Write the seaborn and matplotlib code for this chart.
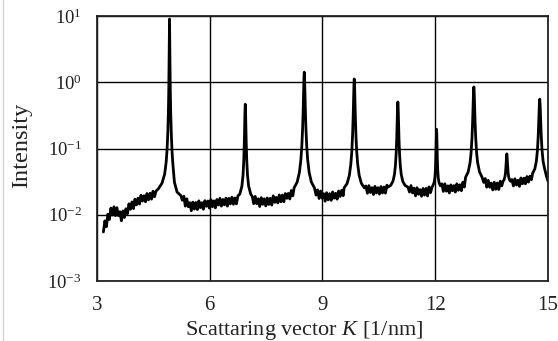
import matplotlib
matplotlib.use("Agg")
import matplotlib.pyplot as plt
import matplotlib.lines as mlines
import seaborn as sns
import pandas as pd

# ---------------- data ----------------
k_a = [3.17, 3.21, 3.25, 3.29, 3.33, 3.37, 3.41, 3.45, 3.49, 3.53, 3.57, 3.61,
       3.65, 3.69, 3.73, 3.77, 3.81, 3.85, 3.89, 3.93, 3.97, 4.01, 4.05, 4.09,
       4.13, 4.17, 4.21, 4.25, 4.29, 4.33, 4.37, 4.41, 4.45, 4.49, 4.53, 4.57]
i_a = [0.0055, 0.0081, 0.0066, 0.0102, 0.0085, 0.0126, 0.0099, 0.0132, 0.0097,
       0.0128, 0.0097, 0.0111, 0.0081, 0.0114, 0.0091, 0.0123, 0.0104, 0.0146,
       0.0121, 0.0156, 0.0124, 0.0172, 0.0141, 0.0178, 0.0145, 0.0197, 0.0161,
       0.0193, 0.0157, 0.0209, 0.0168, 0.0211, 0.0172, 0.0226, 0.0187, 0.0228]

k_p1 = [4.63, 4.73, 4.80, 4.84, 4.865, 4.885, 4.90, 4.91, 4.92, 4.925, 4.93,
        4.935, 4.94, 4.95, 4.96, 4.975, 4.995, 5.02, 5.06, 5.13, 5.23]
i_p1 = [0.0245, 0.030, 0.041, 0.062, 0.098, 0.18, 0.37, 0.77, 2.4, 5.3, 9.0,
        5.3, 2.4, 0.77, 0.37, 0.18, 0.093, 0.057, 0.031, 0.022, 0.0195]

k_b = [5.27, 5.31, 5.35, 5.39, 5.43, 5.47, 5.51, 5.55, 5.59, 5.63, 5.67, 5.71,
       5.75, 5.79, 5.83, 5.87, 5.91, 5.95, 5.99, 6.03, 6.07, 6.11, 6.15, 6.19,
       6.23, 6.27, 6.31, 6.35, 6.39, 6.43, 6.47, 6.51, 6.55, 6.59, 6.63, 6.67,
       6.71, 6.75]
i_b = [0.0166, 0.0191, 0.0135, 0.0174, 0.0132, 0.0152, 0.0115, 0.0155, 0.0122,
       0.0153, 0.0120, 0.0162, 0.0128, 0.0152, 0.0121, 0.0163, 0.0134, 0.0161,
       0.0126, 0.0169, 0.0132, 0.0162, 0.0127, 0.0170, 0.0140, 0.0177, 0.0135,
       0.0170, 0.0141, 0.0178, 0.0135, 0.0177, 0.0146, 0.0184, 0.0144, 0.0179,
       0.0146, 0.0193]

k_p2 = [6.80, 6.855, 6.885, 6.905, 6.92, 6.931, 6.938, 6.945, 6.952, 6.959,
        6.97, 6.985, 7.005, 7.035, 7.09]
i_p2 = [0.0205, 0.027, 0.039, 0.065, 0.123, 0.241, 0.376, 0.466, 0.376, 0.241,
        0.123, 0.065, 0.039, 0.027, 0.0205]

k_c = [7.13, 7.17, 7.21, 7.25, 7.29, 7.33, 7.37, 7.41, 7.45, 7.49, 7.53, 7.57,
       7.61, 7.65, 7.69, 7.73, 7.77, 7.81, 7.85, 7.89, 7.93, 7.97, 8.01, 8.05,
       8.09, 8.13, 8.17, 8.21]
i_c = [0.0190, 0.0147, 0.0189, 0.0147, 0.0174, 0.0133, 0.0181, 0.0144, 0.0174,
       0.0136, 0.0179, 0.0143, 0.0177, 0.0140, 0.0193, 0.0154, 0.0183, 0.0151,
       0.0199, 0.0157, 0.0198, 0.0157, 0.0209, 0.0177, 0.0210, 0.0173, 0.0232,
       0.0193]

k_p3 = [8.245, 8.325, 8.385, 8.425, 8.45, 8.47, 8.485, 8.498, 8.507, 8.515,
        8.523, 8.532, 8.545, 8.56, 8.58, 8.605, 8.645, 8.705, 8.785]
i_p3 = [0.0255, 0.031, 0.0435, 0.068, 0.11, 0.195, 0.36, 0.72, 1.17, 1.42,
        1.17, 0.72, 0.36, 0.195, 0.11, 0.068, 0.0435, 0.031, 0.0255]

k_d = [8.83, 8.87, 8.91, 8.95, 8.99, 9.03, 9.07, 9.11, 9.15, 9.19, 9.23, 9.27,
       9.31, 9.35, 9.39, 9.43, 9.47, 9.51, 9.55]
i_d = [0.0198, 0.0237, 0.0176, 0.0228, 0.0178, 0.0208, 0.0160, 0.0215, 0.0168,
       0.0208, 0.0165, 0.0221, 0.0178, 0.0211, 0.0172, 0.0228, 0.0189, 0.0234,
       0.0194]

k_p4 = [9.575, 9.655, 9.715, 9.755, 9.78, 9.80, 9.815, 9.828, 9.837, 9.845,
        9.853, 9.862, 9.875, 9.89, 9.91, 9.935, 9.975, 10.035, 10.115]
i_p4 = [0.0254, 0.0297, 0.0395, 0.059, 0.091, 0.158, 0.288, 0.571, 0.922, 1.12,
        0.922, 0.571, 0.288, 0.158, 0.091, 0.059, 0.0395, 0.0297, 0.0254]

k_e = [10.155, 10.195, 10.235, 10.275, 10.315, 10.355, 10.395, 10.435, 10.475,
       10.515, 10.555, 10.595, 10.635, 10.675, 10.715]
i_e = [0.0272, 0.0211, 0.0275, 0.0217, 0.0256, 0.0202, 0.0268, 0.0213, 0.0256,
       0.0205, 0.0266, 0.0213, 0.0262, 0.0212, 0.0279]

k_p5 = [10.735, 10.815, 10.875, 10.915, 10.94, 10.96, 10.975, 10.988, 10.997,
        11.005, 11.013, 11.022, 11.035, 11.05, 11.07, 11.095, 11.135, 11.195,
        11.275]
i_p5 = [0.026, 0.0278, 0.032, 0.0406, 0.055, 0.084, 0.141, 0.264, 0.417, 0.504,
        0.417, 0.264, 0.141, 0.084, 0.055, 0.0406, 0.032, 0.0278, 0.026]

k_f = [11.315, 11.355, 11.395, 11.435, 11.475, 11.515, 11.555, 11.595, 11.635,
       11.675, 11.715, 11.755, 11.795, 11.835, 11.875, 11.915]
i_f = [0.0220, 0.0276, 0.0214, 0.0252, 0.0193, 0.0256, 0.0204, 0.0239, 0.0190,
       0.0249, 0.0198, 0.0250, 0.0192, 0.0263, 0.0216, 0.0262]

k_p6 = [11.935, 11.97, 11.99, 12.005, 12.015, 12.023, 12.029, 12.035, 12.041,
        12.047, 12.055, 12.065, 12.08, 12.10, 12.135]
i_p6 = [0.0274, 0.0306, 0.036, 0.048, 0.070, 0.110, 0.161, 0.195, 0.161, 0.110,
        0.070, 0.048, 0.036, 0.0306, 0.0274]

k_g = [12.175, 12.215, 12.255, 12.295, 12.335, 12.375, 12.415, 12.455, 12.495,
       12.535, 12.575, 12.615, 12.655, 12.695, 12.735, 12.775]
i_g = [0.0293, 0.0225, 0.0293, 0.0227, 0.0273, 0.0213, 0.0282, 0.0230, 0.0275,
       0.0220, 0.0293, 0.0234, 0.0283, 0.0231, 0.0310, 0.0262]

k_p7 = [12.807, 12.877, 12.927, 12.952, 12.977, 12.992, 13.007, 13.017, 13.027,
        13.037, 13.047, 13.062, 13.077, 13.102, 13.127, 13.177, 13.247]
i_p7 = [0.0367, 0.0444, 0.0616, 0.0845, 0.143, 0.232, 0.44, 0.686, 0.85, 0.686,
        0.44, 0.232, 0.143, 0.0845, 0.0616, 0.0444, 0.0367]

k_h = [13.29, 13.33, 13.37, 13.41, 13.45, 13.49, 13.53, 13.57, 13.61, 13.65,
       13.69, 13.73, 13.77]
i_h = [0.0308, 0.0352, 0.0261, 0.0330, 0.0260, 0.0300, 0.0237, 0.0310, 0.0242,
       0.0301, 0.0241, 0.0321, 0.0273]

k_p8 = [13.804, 13.829, 13.854, 13.869, 13.884, 13.894, 13.904, 13.914, 13.924,
        13.939, 13.954, 13.979, 14.004]
i_p8 = [0.032, 0.0335, 0.0373, 0.043, 0.0565, 0.072, 0.083, 0.072, 0.0565,
        0.043, 0.0373, 0.0335, 0.032]

k_i = [14.04, 14.08, 14.12, 14.16, 14.20, 14.24, 14.28, 14.32, 14.36, 14.40,
       14.44, 14.48, 14.52, 14.56]
i_i = [0.0340, 0.0272, 0.0349, 0.0281, 0.0331, 0.0268, 0.0359, 0.0293, 0.0356,
       0.0293, 0.0377, 0.0311, 0.0382, 0.0339]

k_p9 = [14.59, 14.65, 14.69, 14.72, 14.74, 14.758, 14.769, 14.78, 14.791,
        14.802, 14.82, 14.84, 14.87, 14.91, 14.96, 15.0]
i_p9 = [0.042, 0.0495, 0.064, 0.096, 0.156, 0.295, 0.451, 0.555, 0.451, 0.295,
        0.156, 0.096, 0.064, 0.0495, 0.038, 0.032]

x_ticks = [3, 6, 9, 12, 15]
y_ticks = [1e-3, 1e-2, 1e-1, 1e0, 1e1]
y_tick_labels = [r"$10^{-3}$", r"$10^{-2}$", r"$10^{-1}$", r"$10^{0}$", r"$10^{1}$"]
x_label = "Scattaring vector $K$ [1/nm]"
y_label = "Intensity"

# ---------------- build table ----------------
k_all = (k_a + k_p1 + k_b + k_p2 + k_c + k_p3 + k_d + k_p4 + k_e + k_p5 +
         k_f + k_p6 + k_g + k_p7 + k_h + k_p8 + k_i + k_p9)
i_all = (i_a + i_p1 + i_b + i_p2 + i_c + i_p3 + i_d + i_p4 + i_e + i_p5 +
         i_f + i_p6 + i_g + i_p7 + i_h + i_p8 + i_i + i_p9)
df = pd.DataFrame({"K": k_all, "I": i_all})

# ---------------- style ----------------
sns.set_style("white")
plt.rcParams["font.family"] = ["Liberation Serif", "DejaVu Serif"]
plt.rcParams["mathtext.fontset"] = "custom"
plt.rcParams["mathtext.rm"] = "Liberation Serif"
plt.rcParams["mathtext.it"] = "Liberation Serif:italic"
plt.rcParams["mathtext.bf"] = "Liberation Serif:bold"

fig = plt.figure(figsize=(5.58, 3.41), dpi=100)
ax = fig.add_axes([97 / 558, 1 - 281 / 341, (548 - 97) / 558, (281 - 16) / 341])

sns.lineplot(data=df, x="K", y="I", ax=ax, color="black", linewidth=2.0,
             estimator=None, sort=False)

ax.set_yscale("log")
ax.set_xlim(3, 15)
ax.set_ylim(1e-3, 1e1)
ax.set_xticks(x_ticks)
ax.set_xticklabels([str(t) for t in x_ticks])
ax.set_yticks(y_ticks)
ax.set_yticklabels(y_tick_labels)
ax.minorticks_off()
ax.tick_params(axis="both", length=0, colors="#222222")
ax.tick_params(axis="y", pad=11, labelsize=13.5)
ax.tick_params(axis="x", pad=11, labelsize=15)

ax.grid(True, which="major", color="black", linewidth=1.0)
ax.set_axisbelow(True)
for sp in ax.spines.values():
    sp.set_color("#222222")
    sp.set_linewidth(1.3)

ax.set_xlabel(x_label, fontsize=16, color="#222222")
ax.set_ylabel(y_label, fontsize=17.5, color="#222222")
ax.xaxis.set_label_coords((304 - 97) / 451, -0.145)
ax.yaxis.set_label_coords(-0.143, 0.51)

fig.add_artist(mlines.Line2D([3 / 558, 3 / 558], [0, 1], color="#d4d4d4",
                             linewidth=1.0, transform=fig.transFigure))

fig.savefig("out.png", dpi=100)
